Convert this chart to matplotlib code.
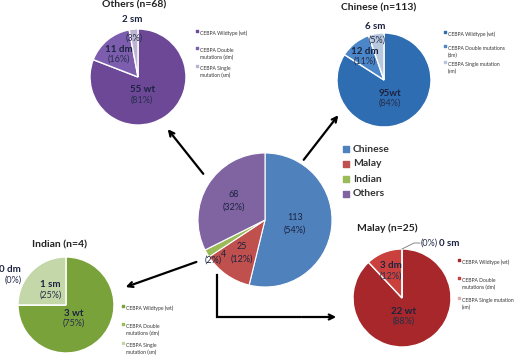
import numpy as np
import matplotlib
matplotlib.use("Agg")
import matplotlib.pyplot as plt

plt.rcParams['font.family'] = ['Lato', 'DejaVu Sans']

# overall cohort
groups = ['Chinese', 'Malay', 'Indian', 'Others']
group_counts = [113, 25, 4, 68]
group_pcts = ['54%', '12%', '2%', '32%']

# CEBPA status per group: wildtype, double mutation, single mutation
status_short = ['wt', 'dm', 'sm']
others_counts = [55, 11, 2]
others_pcts = ['81%', '16%', '3%']
chinese_counts = [95, 12, 6]
chinese_pcts = ['84%', '11%', '5%']
indian_counts = [3, 0, 1]
indian_pcts = ['75%', '0%', '25%']
malay_counts = [22, 3, 0]
malay_pcts = ['88%', '12%', '0%']

W, H = 520, 355


def py(y):
    # image pixel row -> data y (y up)
    return H - y


fig = plt.figure(figsize=(5.2, 3.55), dpi=100)
ax = fig.add_axes([0, 0, 1, 1])
ax.set_xlim(0, W)
ax.set_ylim(0, H)
ax.set_aspect('equal')
ax.axis('off')

txt_dark = '#1c2340'
txt_pct = '#262f4c'


def sub_pie(cx, cy, r, counts, colors, explode, title, title_xy,
            legend_xy, legend_text):
    wedges, _ = ax.pie(counts, colors=colors, startangle=90, counterclock=False,
                       center=(cx, py(cy)), radius=r, explode=explode,
                       wedgeprops=dict(edgecolor='white', linewidth=1.0),
                       frame=True)
    ax.text(title_xy[0], py(title_xy[1]), title, ha='center', va='center',
            fontsize=7.5, fontweight='bold', color='#222222')
    # legend
    lx, ly = legend_xy
    for (text, dy), c in zip(legend_text, colors):
        ax.scatter([lx], [py(ly + dy)], marker='s', s=3, color=c)
        ax.text(lx + 3, py(ly + dy), text, fontsize=3.6, va='top',
                ha='left', color='#333333', linespacing=1.5)
    return wedges


def wedge_label(w, frac, count, name, pct, dx=0, dy=0, split=None, sep=' '):
    cx, cy = w.center
    ang = np.deg2rad((w.theta1 + w.theta2) / 2)
    x = cx + frac * w.r * np.cos(ang) + dx
    y = cy + frac * w.r * np.sin(ang) + dy
    if split is None:
        ax.text(x, y + 5, f'{count}{sep}{name}', ha='center', va='center',
                fontsize=7, fontweight='bold', color=txt_dark)
        ax.text(x, y - 5, f'({pct})', ha='center', va='center',
                fontsize=6.5, color=txt_pct)
    else:
        fo, fi = split
        ax.text(cx + fo * w.r * np.cos(ang) + dx, cy + fo * w.r * np.sin(ang),
                f'{count}{sep}{name}', ha='center', va='center',
                fontsize=7, fontweight='bold', color=txt_dark)
        ax.text(cx + fi * w.r * np.cos(ang) + dx, cy + fi * w.r * np.sin(ang),
                f'({pct})', ha='center', va='center',
                fontsize=6.5, color=txt_pct)


# ---- Central pie
ccx, ccy, cr = 265, 220, 67
main_colors = ['#4F81BD', '#C0504D', '#9BBB59', '#8064A2']
mw, _ = ax.pie(group_counts, colors=main_colors, startangle=90,
               counterclock=False, center=(ccx, py(ccy)), radius=cr,
               wedgeprops=dict(edgecolor='white', linewidth=0.8), frame=True)
for i, (w, n, p) in enumerate(zip(mw, group_counts, group_pcts)):
    ang = np.deg2rad((w.theta1 + w.theta2) / 2)
    f = {0: 0.45, 1: 0.6, 2: 0.85, 3: 0.55}[i]
    x = ccx + f * cr * np.cos(ang)
    y = py(ccy) + f * cr * np.sin(ang)
    if i == 2:
        ax.text(x + 8, y - 6, str(n), ha='center', va='center', fontsize=6.5, color=txt_dark)
        ax.text(x - 2, y - 12, f'({p})', ha='center', va='center', fontsize=6.5, color=txt_dark)
    else:
        ax.text(x, y + 6, str(n), ha='center', va='center', fontsize=6.5, color=txt_dark)
        ax.text(x, y - 6, f'({p})', ha='center', va='center', fontsize=6.5, color=txt_dark)

for k, (g, c) in enumerate(zip(groups, main_colors)):
    yy = py(149 + 15 * k)
    ax.scatter([346], [yy], marker='s', s=14, color=c)
    ax.text(353, yy, g, fontsize=7.5, fontweight='bold', va='center',
            color='#333333')

# ---- Others
ow = sub_pie(138, 77, 48, others_counts, ['#6C4897', '#7D5DAE', '#BDB4D2'],
             [0, 0, 0.06], 'Others (n=68)', (134, 5), (197, 32),
             [('CEBPA Wildtype (wt)', -1.5), ('CEBPA Double\nmutations (dm)', 16),
              ('CEBPA Single\nmutation (sm)', 34)])
wedge_label(ow[0], 0.45, others_counts[0], 'wt', others_pcts[0], dx=-8)
wedge_label(ow[1], 0.62, others_counts[1], 'dm', others_pcts[1])
wedge_label(ow[2], 0, others_counts[2], 'sm', others_pcts[2], split=(1.2, 0.82))

# ---- Chinese
cw = sub_pie(384, 80, 47, chinese_counts, ['#2F6DB3', '#4A86C8', '#B7C8DE'],
             [0, 0, 0.06], 'Chinese (n=113)', (379, 8), (445, 33),
             [('CEBPA Wildtype (wt)', -1.5), ('CEBPA Double mutations\n(dm)', 13),
              ('CEBPA Single mutation\n(sm)', 29)])
wedge_label(cw[0], 0.45, chinese_counts[0], 'wt', chinese_pcts[0], dx=-4, sep='')
wedge_label(cw[1], 0.65, chinese_counts[1], 'dm', chinese_pcts[1])
wedge_label(cw[2], 0, chinese_counts[2], 'sm', chinese_pcts[2], split=(1.15, 0.85))

# ---- Indian
iw = sub_pie(66, 305, 48, indian_counts, ['#7AA23B', '#9BBB59', '#C4D7A8'],
             [0, 0, 0.07], 'Indian (n=4)', (60, 245), (123, 307),
             [('CEBPA Wildtype (wt)', -1.5), ('CEBPA Double\nmutations (dm)', 17),
              ('CEBPA Single\nmutation (sm)', 36)])
wedge_label(iw[0], 0.4, indian_counts[0], 'wt', indian_pcts[0], dx=-6)
wedge_label(iw[2], 0.45, indian_counts[2], 'sm', indian_pcts[2])
ax.text(10, py(269), f'{indian_counts[1]} dm', ha='center', va='center',
        fontsize=7, fontweight='bold', color=txt_dark)
ax.text(13, py(280), f'({indian_pcts[1]})', ha='center', va='center',
        fontsize=6.5, color=txt_pct)

# ---- Malay
mlw = sub_pie(402, 298, 49, malay_counts, ['#A8272A', '#C9403D', '#D9B0AF'],
              [0, 0.02, 0], 'Malay (n=25)', (387, 228), (459, 261),
              [('CEBPA Wildtype (wt)', -1.5), ('CEBPA Double\nmutations (dm)', 17),
               ('CEBPA Single mutation\n(sm)', 37)])
wedge_label(mlw[0], 0.4, malay_counts[0], 'wt', malay_pcts[0], dx=-6)
wedge_label(mlw[1], 0.6, malay_counts[1], 'dm', malay_pcts[1])
ax.plot([402, 414, 420], [py(249), py(243), py(243)], color='#777777', lw=0.6)
ax.text(421, py(243), f'({malay_pcts[2]})', fontsize=6.5, va='center',
        color=txt_pct)
ax.text(439, py(243), f'{malay_counts[2]} sm', fontsize=7, va='center',
        fontweight='bold', color=txt_dark)

# ---- Arrows from central pie to each group pie
arrow_kw = dict(arrowstyle='->', color='black', lw=1.6, mutation_scale=9)
ax.annotate('', xy=(166, py(127)), xytext=(205, py(176)), arrowprops=arrow_kw)
ax.annotate('', xy=(340, py(113)), xytext=(302, py(162)), arrowprops=arrow_kw)
ax.annotate('', xy=(123, py(288)), xytext=(199, py(261)), arrowprops=arrow_kw)
ax.plot([217, 217, 300], [py(275), py(317), py(317)], color='black', lw=1.6,
        solid_joinstyle='miter')
ax.annotate('', xy=(339, py(317)), xytext=(299, py(317)), arrowprops=arrow_kw)

ax.set_xlim(0, W)
ax.set_ylim(0, H)
ax.axis('off')
fig.savefig('out.png', dpi=100)
